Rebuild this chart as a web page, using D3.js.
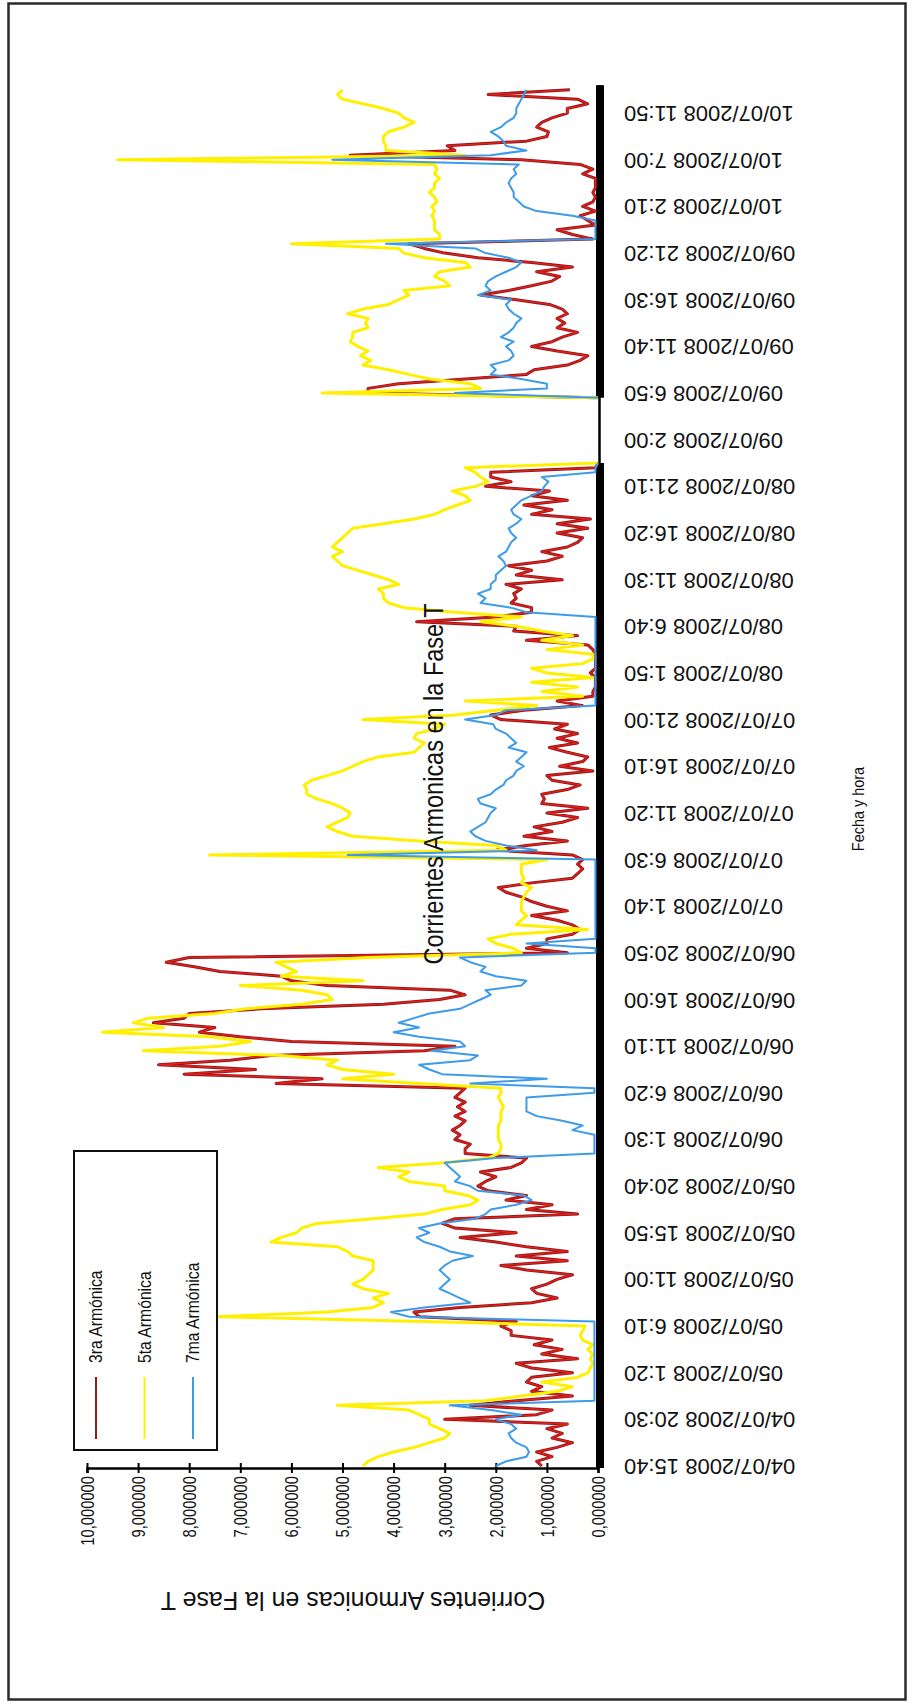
<!DOCTYPE html>
<html>
<head>
<meta charset="utf-8">
<script src="https://cdnjs.cloudflare.com/ajax/libs/d3/7.8.5/d3.min.js"></script>
<style>
  body { margin: 0; background: #fff; }
  svg { display: block; }
  text { font-family: 'Liberation Sans', Arial, sans-serif; fill: #111; }
</style>
</head>
<body>
<div id="chart"></div>
<script>
const TITLE = 'Corrientes Armonicas en la Fase T';
const VALUE_TITLE = 'Corrientes Armonicas en la Fase T';
const TIME_TITLE = 'Fecha y hora';
const SERIES_NAMES = ['3ra Armónica', '5ta Armónica', '7ma Armónica'];
const SERIES_COLORS = ['#C4161C', '#FFF000', '#3D9BE9'];

const TIME_LABELS = [
  '04/07/2008 15:40', '04/07/2008 20:30', '05/07/2008 1:20', '05/07/2008 6:10', '05/07/2008 11:00',
  '05/07/2008 15:50', '05/07/2008 20:40', '06/07/2008 1:30', '06/07/2008 6:20', '06/07/2008 11:10',
  '06/07/2008 16:00', '06/07/2008 20:50', '07/07/2008 1:40', '07/07/2008 6:30', '07/07/2008 11:20',
  '07/07/2008 16:10', '07/07/2008 21:00', '08/07/2008 1:50', '08/07/2008 6:40', '08/07/2008 11:30',
  '08/07/2008 16:20', '08/07/2008 21:10', '09/07/2008 2:00', '09/07/2008 6:50', '09/07/2008 11:40',
  '09/07/2008 16:30', '09/07/2008 21:20', '10/07/2008 2:10', '10/07/2008 7:00', '10/07/2008 11:50'
];
const VALUE_TICKS = [0, 1, 2, 3, 4, 5, 6, 7, 8, 9, 10];

// one sample every tenth of a label interval (29 min); null = no measurement
const STEP = 0.1;

const tercera = [
  1.1,1.2,0.9,1.2,0.8,0.5,0.9,0.7,1.0,0.6,
  3.0,1.2,0.9,2.5,1.6,0.5,1.3,1.1,1.4,1.3,
  0.5,1.3,1.6,0.4,1.1,0.7,1.25,0.9,1.7,1.7,
  1.9,1.6,3.5,3.6,2.7,1.3,0.8,1.2,1.3,1.0,
  0.8,0.5,1.4,1.9,0.6,1.6,0.6,1.4,2.0,2.7,
  1.6,2.8,3.05,2.8,0.4,1.4,0.9,1.8,1.4,2.15,
  2.35,2.2,2.0,2.3,1.7,1.5,1.4,2.6,2.6,2.5,
  2.8,2.7,2.85,2.7,2.6,2.8,2.6,2.75,2.6,2.8,
  2.7,2.6,6.3,5.4,8.1,6.7,8.6,7.2,6.4,3.4,
  2.8,6.0,7.0,7.8,7.5,8.7,8.1,8.0,6.6,4.2,
  3.1,2.6,2.9,5.3,6.0,6.2,7.4,7.9,8.45,8.0,
  0.6,1.4,1.0,1.0,0.5,0.35,0.5,0.8,1.3,0.6,
  1.0,1.3,1.5,1.8,1.95,1.3,0.5,0.4,0.3,0.4,
  0.3,0.5,2.0,1.4,0.6,1.45,0.9,1.25,0.7,0.4,
  1.0,0.2,1.1,1.05,1.1,0.6,0.35,0.9,1.0,0.1,
  0.75,0.3,0.2,0.6,0.95,0.4,0.8,0.4,0.85,0.6,
  1.9,2.1,1.45,0.3,0.8,0.1,0.1,0.05,0.05,0.05,
  0.15,0.05,0.05,0.05,0.05,0.1,0.2,1.4,0.4,1.65,
  1.6,3.55,2.0,1.3,1.3,1.7,1.6,1.65,1.5,1.8,
  0.7,1.6,1.3,1.75,1.0,0.7,1.1,0.6,0.4,0.3,
  0.8,0.2,0.8,0.15,1.3,0.9,1.45,0.6,1.3,0.95,
  2.2,1.7,2.1,2.1,0.05,0,null,null,null,null,
  null,null,null,null,null,null,null,null,null,0,
  4.5,4.5,3.9,2.6,1.4,1.25,0.6,0.35,0.2,0.8,
  1.3,0.9,0.7,0.4,0.8,0.65,0.8,0.6,0.7,0.95,
  1.6,2.3,1.75,1.3,0.9,0.75,1.2,0.5,1.3,2.35,
  3.0,3.4,3.7,0.1,0.5,0.8,0.05,0.2,0.35,0.05,
  0.3,0.1,0.05,0.1,0.05,0.05,0.05,0.3,0.1,0.35,
  1.5,4.85,2.8,2.95,1.4,1.0,0.97,1.2,1.1,0.9,
  0.6,0.6,0.2,0.4,2.15,0.55
];

const quinta = [
  4.6,4.5,4.3,4.0,3.6,3.3,3.0,2.9,3.1,3.3,
  3.3,3.5,3.7,5.1,2.2,1.5,0.8,0.5,1.1,0.4,
  0.2,0.15,0.1,0.15,0.1,0.2,0.1,0.3,0.35,0.3,
  0.25,3.4,7.45,5.3,4.4,4.2,4.4,4.1,4.6,4.8,
  4.6,4.5,4.4,4.4,4.4,4.8,4.9,5.1,6.4,6.2,
  5.9,5.8,5.5,4.4,3.4,3.05,2.5,2.35,2.55,3.0,
  3.0,3.7,3.9,3.7,4.3,3.0,2.15,1.95,1.9,1.9,
  1.95,1.95,1.95,1.95,1.9,1.9,1.9,1.85,1.9,1.95,
  1.9,1.9,3.5,5.0,4.0,5.0,5.3,5.1,6.2,8.9,
  7.4,6.8,7.6,9.7,8.5,9.1,8.8,7.5,6.9,5.8,
  5.2,5.3,5.8,7.0,4.6,6.2,5.9,6.1,6.3,4.5,
  1.5,1.66,2.0,2.15,1.7,0.2,1.6,1.5,1.4,1.5,
  1.5,1.5,1.45,1.4,1.3,1.5,1.45,1.5,1.5,1.5,
  1.0,7.6,1.8,2.0,3.5,4.8,5.1,5.3,5.1,4.9,
  4.85,5.0,5.2,5.5,5.7,5.7,5.75,5.6,5.3,5.0,
  4.8,4.6,4.3,3.6,3.5,3.4,3.6,3.55,3.2,3.0,
  4.6,2.8,2.0,1.2,2.6,0.3,1.1,0.4,1.3,0.1,
  1.0,1.3,0.3,0.1,0.1,1.0,0.3,1.1,0.5,1.1,
  1.6,2.3,1.5,2.8,3.8,4.1,4.2,4.2,4.3,3.9,
  4.1,4.4,4.7,5.0,5.1,5.2,5.0,5.2,5.1,5.0,
  4.9,4.8,4.2,3.6,3.2,3.0,2.75,2.5,2.6,2.85,
  2.4,2.15,2.3,2.4,2.6,0,null,null,null,null,
  null,null,null,null,null,null,null,null,null,0,
  5.4,2.3,2.5,3.3,3.7,4.1,4.6,4.45,4.65,4.5,
  4.7,4.85,4.8,4.8,4.5,4.55,4.5,4.9,4.6,4.1,
  3.9,3.7,3.8,2.9,3.0,3.2,3.1,2.5,2.6,3.4,
  3.8,3.9,6.0,3.1,3.1,3.2,3.2,3.2,3.25,3.2,
  3.25,3.15,3.2,3.3,3.2,3.2,3.1,3.2,3.15,3.2,
  9.4,2.6,4.15,4.15,4.2,4.2,4.1,3.8,3.6,3.8,
  3.9,4.2,4.6,5.0,5.1,5.0
];

const septima = [
  2.0,1.8,1.4,1.35,1.4,1.6,1.7,1.75,1.6,1.7,
  2.0,1.5,2.1,2.9,0.07,0.07,0.07,0.07,0.07,0.07,
  0.07,0.07,0.07,0.07,0.07,0.07,0.07,0.07,0.07,0.07,
  0.07,0.07,3.7,4.05,3.4,2.5,2.7,2.9,3.1,3.0,
  2.9,3.0,3.1,3.0,2.85,2.45,2.9,3.1,3.4,3.55,
  3.3,3.5,3.1,2.4,2.2,2.1,1.6,1.3,1.45,2.35,
  2.5,2.8,2.7,2.8,2.9,3.0,2.0,0.07,0.07,0.07,
  0.07,0.07,0.5,0.3,0.7,1.2,1.4,1.4,1.4,1.4,
  0.07,0.07,2.5,1.0,3.05,3.3,3.5,2.5,2.35,3.25,
  2.6,2.7,3.5,4.0,3.5,3.9,3.6,3.3,2.7,2.5,
  2.3,2.1,2.2,1.5,1.4,2.0,2.3,2.2,2.5,2.7,
  0.05,0.05,1.4,0.05,0.05,0.05,0.05,0.05,0.05,0.05,
  0.05,0.05,0.05,0.05,0.05,0.05,0.05,0.05,0.05,0.05,
  0.05,4.9,1.2,1.8,2.2,2.4,2.5,2.35,2.2,2.15,
  2.1,2.0,2.3,2.35,2.1,2.0,1.85,1.8,1.65,1.6,
  1.45,1.6,1.5,1.4,1.75,1.6,1.7,1.8,2.0,2.05,
  2.6,2.0,1.8,0.05,0.05,0.05,0.05,0.05,0.05,0.05,
  0.05,0.05,0.05,0.05,0.05,0.05,0.05,0.05,0.05,0.05,
  0.05,0.05,0.05,1.4,1.7,2.3,2.2,2.35,2.1,2.1,
  2.0,2.0,1.9,1.8,1.85,1.95,1.8,1.75,1.7,1.6,
  1.7,1.75,1.6,1.5,1.65,1.7,1.6,1.5,1.3,1.1,
  1.05,0.97,1.1,0.05,0.05,0,null,null,null,null,
  null,null,null,null,null,null,null,null,null,0,
  2.8,1.0,1.0,1.5,2.1,2.0,2.1,1.75,1.65,1.7,
  1.8,1.65,1.9,1.75,1.65,1.6,1.5,1.65,1.75,1.8,
  1.7,2.35,2.1,2.2,2.15,2.0,1.8,1.6,1.5,1.75,
  2.2,2.4,4.15,0.05,0.05,0.05,0.05,0.05,0.5,1.2,
  1.45,1.55,1.65,1.65,1.7,1.75,1.7,1.6,1.65,1.55,
  5.2,2.1,1.4,1.8,1.85,1.95,2.1,1.9,1.8,1.65,
  1.6,1.6,1.55,1.5,1.45,1.4
];

const W = 912, H = 1703;
const svg = d3.select('#chart').append('svg').attr('width', W).attr('height', H);

// outer frame
svg.append('rect')
  .attr('x', 8.5).attr('y', 3.5).attr('width', 897).attr('height', 1696)
  .attr('fill', 'none').attr('stroke', '#2a2a2a').attr('stroke-width', 2.5);

// the whole chart is turned a quarter turn: values run right-to-left, time runs bottom-to-top
const v = d3.scaleLinear().domain([0, 10]).range([598, 87]);
const tEnd = 29.6;
const t = d3.scaleLinear().domain([0, tEnd]).range([1466, 1466 - 46.65 * tEnd]);
const axisY = t(0) + 2;

// category axis: thin rule, thick where there are measurements
svg.append('line')
  .attr('x1', v(0) + 1.5).attr('x2', v(0) + 1.5)
  .attr('y1', axisY).attr('y2', t(tEnd))
  .attr('stroke', '#000').attr('stroke-width', 2.5);

const runs = [];
let start = null;
tercera.forEach((d, i) => {
  if (d != null && start == null) start = i;
  if ((d == null || i === tercera.length - 1) && start != null) {
    runs.push([start, d == null ? i - 1 : i]);
    start = null;
  }
});
const runTop = d => d[1] === tercera.length - 1 ? t(tEnd) : t(d[1] * STEP);
const runBottom = d => d[0] === 0 ? axisY : t(d[0] * STEP);
svg.append('g').selectAll('rect')
  .data(runs).enter().append('rect')
  .attr('x', v(0) - 2).attr('width', 8)
  .attr('y', runTop)
  .attr('height', d => runBottom(d) - runTop(d))
  .attr('fill', '#000');

// value axis
const fmt = d => d.toFixed(6).replace('.', ',');
const valueAxis = svg.append('g')
  .attr('transform', `translate(0,${axisY})`)
  .call(d3.axisBottom(v).tickValues(VALUE_TICKS).tickFormat(fmt).tickSize(5));
valueAxis.select('.domain').attr('stroke', '#000').attr('stroke-width', 2.5);
valueAxis.selectAll('.tick line').attr('y1', -5).attr('y2', 5).attr('stroke', '#000').attr('stroke-width', 2);
valueAxis.selectAll('.tick text')
  .attr('transform', 'rotate(-90) translate(-8,0) scale(0.82,1)')
  .attr('x', 0).attr('y', 0).attr('dy', '0.35em')
  .attr('text-anchor', 'end')
  .attr('font-size', 18).attr('fill', '#111');

// time labels, upside down
const timeAxis = svg.append('g')
  .attr('transform', `translate(${v(0) + 7},0)`)
  .call(d3.axisRight(t).tickValues(d3.range(TIME_LABELS.length)).tickFormat(i => TIME_LABELS[i]).tickSize(0));
timeAxis.select('.domain').remove();
timeAxis.selectAll('.tick text')
  .attr('x', 0).attr('dy', null)
  .attr('transform', 'translate(19,0) rotate(180)')
  .attr('text-anchor', 'end')
  .attr('dominant-baseline', 'central')
  .attr('font-size', 22).attr('fill', '#111');

// series
const line = d3.line()
  .defined(d => d != null)
  .x(d => v(d))
  .y((d, i) => t(i * STEP));

svg.append('path').datum(tercera).attr('d', line)
  .attr('fill', 'none').attr('stroke', '#8E1518').attr('stroke-width', 3).attr('stroke-linejoin', 'round');
svg.append('path').datum(tercera).attr('d', line)
  .attr('fill', 'none').attr('stroke', '#E3201B').attr('stroke-width', 1.4).attr('stroke-linejoin', 'round');
svg.append('path').datum(quinta).attr('d', line)
  .attr('fill', 'none').attr('stroke', SERIES_COLORS[1]).attr('stroke-width', 3).attr('stroke-linejoin', 'round');
svg.append('path').datum(septima).attr('d', line)
  .attr('fill', 'none').attr('stroke', SERIES_COLORS[2]).attr('stroke-width', 2).attr('stroke-linejoin', 'round');

// legend
const legend = svg.append('g');
legend.append('rect')
  .attr('x', 74).attr('y', 1151).attr('width', 143).attr('height', 299)
  .attr('fill', '#fff').attr('stroke', '#111').attr('stroke-width', 2);
const legendX = d3.scalePoint().domain(SERIES_NAMES).range([96, 193]);
SERIES_NAMES.forEach((name, i) => {
  const x = legendX(name);
  legend.append('line')
    .attr('x1', x).attr('x2', x).attr('y1', 1377).attr('y2', 1439)
    .attr('stroke', i === 0 ? '#9E1A1A' : SERIES_COLORS[i]).attr('stroke-width', 2);
  legend.append('text')
    .attr('transform', `translate(${x},1363) rotate(-90) scale(0.85,1)`)
    .attr('dy', '0.35em')
    .attr('font-size', 18.5)
    .text(name);
});

// titles
svg.append('text')
  .attr('transform', 'translate(434,784) rotate(-90) scale(0.87,1)')
  .attr('text-anchor', 'middle').attr('dy', '0.35em')
  .attr('font-size', 27)
  .text(TITLE);
svg.append('text')
  .attr('transform', 'translate(353,1601) rotate(180)')
  .attr('text-anchor', 'middle').attr('dy', '0.35em')
  .attr('font-size', 25)
  .text(VALUE_TITLE);
svg.append('text')
  .attr('transform', 'translate(858,809) rotate(-90) scale(0.85,1)')
  .attr('text-anchor', 'middle').attr('dy', '0.35em')
  .attr('font-size', 17)
  .text(TIME_TITLE);
</script>
</body>
</html>
